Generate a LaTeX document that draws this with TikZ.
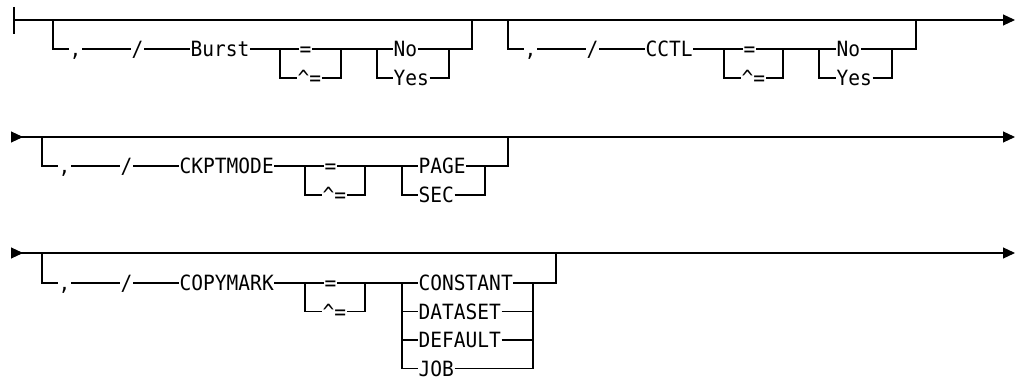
\documentclass[tikz,border=0pt]{standalone}
\usepackage{fontspec}
\newfontfamily\railfont{DejaVu Sans Mono}[FakeStretch=0.93]
\usepackage{tikz}
\usetikzlibrary{arrows.meta}

\tikzset{
  rail/.style={line width=1.1pt},
  item/.style={font=\railfont\fontsize{21pt}{23pt}\selectfont, inner xsep=0.5pt, inner ysep=0pt,
    text height=15.3pt, text depth=0pt, anchor=west},
  tipend/.style={-{Triangle[length=12pt,width=11pt]}},
  tipboth/.style={{Triangle[reversed,length=12pt,width=11pt]}-{Triangle[length=12pt,width=11pt]}},
}

\begin{document}
\begin{tikzpicture}[x=1pt, y=-1pt]
  \useasboundingbox (0,0) rectangle (1017,379);

  % row 1: Burst and CCTL
  \coordinate (s1) at (14,20);
  \coordinate (e1) at (1015,20);
  \draw[rail, tipend] (s1) -- (e1);
  \draw[rail] ([yshift=13pt]s1) -- ([yshift=-14pt]s1);

  \coordinate (b1) at (53,20);
  \node[item] (cm1) at (69,49) {,};
  \node[item] (sl1) at (131,49) {/};
  \node[item] (burst) at (190,49) {Burst};
  \node[item] (eq1) at (299,49) {=};
  \node[item] (ne1) at (297,78) {\textasciicircum=};
  \node[item] (no1) at (393,49) {No};
  \node[item] (yes1) at (393,78) {Yes};
  \coordinate (eqL1) at (280,49);
  \coordinate (eqR1) at (341,49);
  \coordinate (ynL1) at (377,49);
  \coordinate (ynR1) at (449,49);
  \coordinate (j1) at (472,20);
  \draw[rail] (b1) |- (cm1) -- (sl1) -- (burst) -- (eq1) -- (no1) -| (j1);
  \draw[rail] (eqL1) |- (ne1) -| (eqR1);
  \draw[rail] (ynL1) |- (yes1) -| (ynR1);

  \coordinate (b2) at (508,20);
  \node[item] (cm2) at (524,49) {,};
  \node[item] (sl2) at (586,49) {/};
  \node[item] (cctl) at (645,49) {CCTL};
  \node[item] (eq2) at (743,49) {=};
  \node[item] (ne2) at (741,78) {\textasciicircum=};
  \node[item] (no2) at (836,49) {No};
  \node[item] (yes2) at (836,78) {Yes};
  \coordinate (eqL2) at (724,49);
  \coordinate (eqR2) at (783,49);
  \coordinate (ynL2) at (819,49);
  \coordinate (ynR2) at (892,49);
  \coordinate (j2) at (916,20);
  \draw[rail] (b2) |- (cm2) -- (sl2) -- (cctl) -- (eq2) -- (no2) -| (j2);
  \draw[rail] (eqL2) |- (ne2) -| (eqR2);
  \draw[rail] (ynL2) |- (yes2) -| (ynR2);

  % row 2: CKPTMODE
  \coordinate (s2) at (11,137);
  \coordinate (e2) at (1015,137);
  \draw[rail, tipboth] (s2) -- (e2);

  \coordinate (b3) at (42,137);
  \node[item] (cm3) at (58,166) {,};
  \node[item] (sl3) at (120,166) {/};
  \node[item] (ckpt) at (179,166) {CKPTMODE};
  \node[item] (eq3) at (324,166) {=};
  \node[item] (ne3) at (322,195) {\textasciicircum=};
  \node[item] (page) at (418,166) {PAGE};
  \node[item] (sec) at (418,195) {SEC};
  \coordinate (eqL3) at (305,166);
  \coordinate (eqR3) at (365,166);
  \coordinate (psL) at (402,166);
  \coordinate (psR) at (485,166);
  \coordinate (j3) at (508,137);
  \draw[rail] (b3) |- (cm3) -- (sl3) -- (ckpt) -- (eq3) -- (page) -| (j3);
  \draw[rail] (eqL3) |- (ne3) -| (eqR3);
  \draw[rail] (psL) |- (sec) -| (psR);

  % row 3: COPYMARK
  \coordinate (s3) at (11,253);
  \coordinate (e3) at (1015,253);
  \draw[rail, tipboth] (s3) -- (e3);

  \coordinate (b4) at (42,253);
  \node[item] (cm4) at (58,283) {,};
  \node[item] (sl4) at (120,283) {/};
  \node[item] (copymark) at (179,283) {COPYMARK};
  \node[item] (eq4) at (324,283) {=};
  \node[item] (ne4) at (322,311.5) {\textasciicircum=};
  \node[item] (constant) at (418,283) {CONSTANT};
  \node[item] (dataset) at (418,311.5) {DATASET};
  \node[item] (default) at (418,340) {DEFAULT};
  \node[item] (job) at (418,368.5) {JOB};
  \coordinate (eqL4) at (305,283);
  \coordinate (eqR4) at (365,283);
  \coordinate (mkL) at (402,283);
  \coordinate (mkR) at (533,283);
  \coordinate (j4) at (556,253);
  \draw[rail] (b4) |- (cm4) -- (sl4) -- (copymark) -- (eq4) -- (constant) -| (j4);
  \draw[rail] (eqL4) |- (ne4) -| (eqR4);
  \draw[rail] (mkL) |- (job) -| (mkR);
  \foreach \n in {dataset, default}
    \draw[rail] (\n -| mkL) -- (\n) -- (\n -| mkR);
\end{tikzpicture}
\end{document}
